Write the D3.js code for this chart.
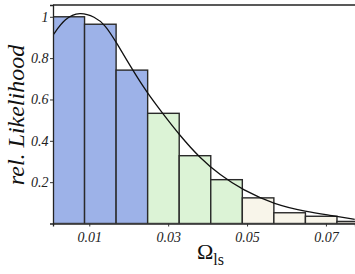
<!DOCTYPE html>
<html><head><meta charset="utf-8">
<script src="https://cdn.jsdelivr.net/npm/d3@7"></script>
<style>body{margin:0;background:#fff}svg{display:block}
.serif{font-family:"Times New Roman","Liberation Serif",serif !important}</style>
</head><body>
<script>
// Data
const binStart = 0.0008;
const binWidth = 0.008;
const barValues = [1.0, 0.964, 0.742, 0.533, 0.328, 0.212, 0.124, 0.052, 0.035, 0.01];
const barGroups = [0, 0, 0, 1, 1, 1, 2, 2, 2, 2];
const groupColors = ["#9db2e8", "#dcf3d6", "#f8f5ea"];
const curveX = [0.0008, 0.00385, 0.0076, 0.0114, 0.014, 0.0169, 0.021, 0.0245, 0.0287, 0.033, 0.038, 0.0431, 0.0489, 0.057, 0.0651, 0.0709, 0.0773];
const curveY = [0.911, 0.994, 1.024, 1.0, 0.962, 0.875, 0.742, 0.637, 0.53, 0.425, 0.318, 0.235, 0.162, 0.092, 0.057, 0.04, 0.02];
const xTicks = [0.01, 0.03, 0.05, 0.07];
const yTicks = [0.2, 0.4, 0.6, 0.8, 1];

const W = 355, H = 274;
const L = 53, R = 355, T = 5, B = 223.5;
const svg = d3.select("body").append("svg").attr("width", W).attr("height", H);
const x = d3.scaleLinear().domain([binStart, 0.07737]).range([L, R]);
const y = d3.scaleLinear().domain([0, 1.057]).range([B, T]);

svg.append("clipPath").attr("id", "clip").append("rect")
  .attr("x", L).attr("y", 0).attr("width", R - L).attr("height", B);

const g = svg.append("g").attr("clip-path", "url(#clip)");
g.selectAll("rect.bar").data(barValues).join("rect").attr("class", "bar")
  .attr("x", (d, i) => x(binStart + i * binWidth))
  .attr("width", (d, i) => x(binStart + (i + 1) * binWidth) - x(binStart + i * binWidth))
  .attr("y", d => y(d))
  .attr("height", d => y(0) - y(d))
  .attr("fill", (d, i) => groupColors[barGroups[i]])
  .attr("stroke", "#2a2a2a").attr("stroke-width", 1.4);

const line = d3.line().x(d => x(d[0])).y(d => y(d[1])).curve(d3.curveBasis);
g.append("path").datum(curveX.map((v, i) => [v, curveY[i]]))
  .attr("d", line).attr("fill", "none").attr("stroke", "#111").attr("stroke-width", 1.3);

// frame
svg.append("line").attr("x1", L).attr("x2", R).attr("y1", T).attr("y2", T).attr("stroke", "#222").attr("stroke-width", 1.3);

// axes
const xAxis = svg.append("g").attr("transform", `translate(0,${B})`)
  .call(d3.axisBottom(x).tickValues(xTicks).tickSize(3).tickFormat(d3.format(".2f")));
const yAxis = svg.append("g").attr("transform", `translate(${L},0)`)
  .call(d3.axisLeft(y).tickValues(yTicks).tickSize(3).tickFormat(d => d === 1 ? "1" : d3.format(".1f")(d)));
[xAxis, yAxis].forEach(a => {
  a.attr("font-family", null);
  a.select(".domain").attr("stroke", "#222").attr("stroke-width", 1.3);
  a.selectAll(".tick line").attr("stroke", "#333");
  a.selectAll("text").attr("class", "serif").style("font-style", "italic")
    .style("font-size", "14px").attr("fill", "#222");
});
xAxis.selectAll("text").attr("dy", "0.9em");
yAxis.selectAll("text").attr("dx", "0.1em");

// labels
svg.append("text").attr("class", "serif").attr("transform", "translate(24,115) rotate(-90)")
  .attr("text-anchor", "middle")
  .style("font-style", "italic").style("font-size", "24px").attr("fill", "#111")
  .text("rel. Likelihood");
const xl = svg.append("text").attr("class", "serif").attr("x", 197).attr("y", 259)
  .style("font-size", "22px").attr("fill", "#111");
xl.append("tspan").text("Ω");
xl.append("tspan").style("font-size", "16px").attr("dy", 6).text("ls");
</script>
</body></html>
